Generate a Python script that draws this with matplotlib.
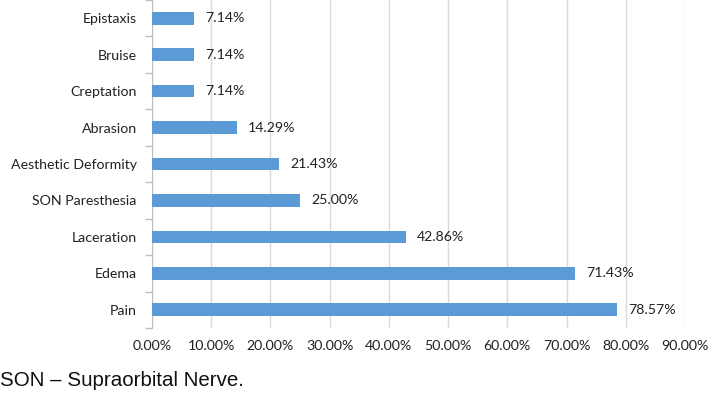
import matplotlib
matplotlib.use("Agg")
import matplotlib.pyplot as plt
import numpy as np

categories = ["Pain", "Edema", "Laceration", "SON Paresthesia", "Aesthetic Deformity",
              "Abrasion", "Creptation", "Bruise", "Epistaxis"]
values = [78.57, 71.43, 42.86, 25.00, 21.43, 14.29, 7.14, 7.14, 7.14]
xticks = [0, 10, 20, 30, 40, 50, 60, 70, 80, 90]
footnote = "SON \u2013 Supraorbital Nerve."

plt.rcParams['font.family'] = ['Lato', 'DejaVu Sans']
FS = 10.2

fig = plt.figure(figsize=(7.09, 3.95), dpi=100)
ax = fig.add_axes([152/709, 1-328/395, (685-152)/709, 328/395])

y = np.arange(len(categories))
ax.barh(y, values, height=0.35, color="#5B9BD5", zorder=3)
for yi, v in zip(y, values):
    ax.annotate(f"{v:.2f}%", (v, yi), xytext=(8, 0), textcoords="offset points",
                va="center", ha="left", fontsize=FS, color="#222222")

ax.set_xlim(0, 90)
ax.set_ylim(-0.5, len(categories) - 0.5)
ax.set_xticks(xticks)
ax.set_xticklabels([f"{t:.2f}%" for t in xticks], fontsize=FS, color="#222222")
ax.set_yticks(y)
ax.set_yticklabels(categories, fontsize=FS, color="#222222")
ax.tick_params(axis="y", length=0, pad=11)
ax.tick_params(axis="x", length=0, pad=9)
ax.set_yticks(np.arange(-0.5, len(categories)), minor=True)
ax.tick_params(axis="y", which="minor", length=5, color="#bfbfbf", width=1)

ax.grid(axis="x", color="#d9d9d9", linewidth=1, zorder=0)
for s in ["top", "right", "bottom"]:
    ax.spines[s].set_visible(False)
ax.spines["left"].set_color("#bfbfbf")

fig.text(0.0, 1-380/395, footnote, fontsize=14.8, family=["Liberation Sans", "DejaVu Sans"],
         va="center", ha="left", color="#111111")

fig.savefig("out.png", dpi=100)
